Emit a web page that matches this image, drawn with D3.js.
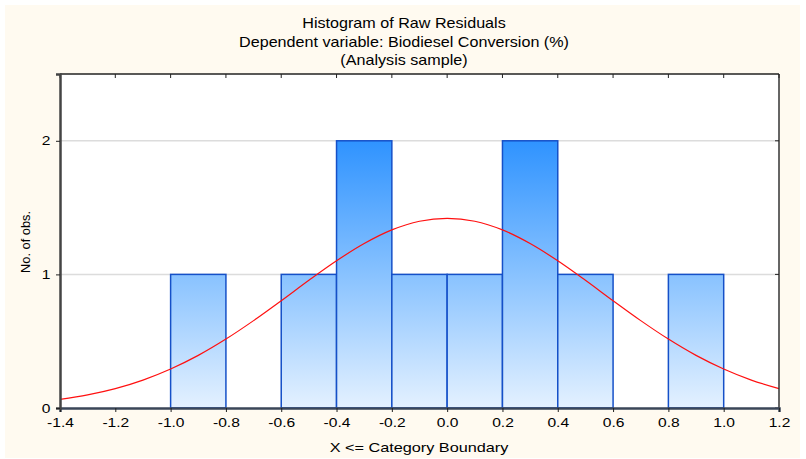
<!DOCTYPE html>
<html><head><meta charset="utf-8">
<script src="https://cdn.jsdelivr.net/npm/d3@7"></script>
<style>html,body{margin:0;padding:0;background:#fff}svg{display:block}</style>
</head><body>
<svg id="c" width="806" height="459"></svg>
<script>
// Data
const binStarts = [-1.0, -0.6, -0.4, -0.2, 0.0, 0.2, 0.4, 0.8];
const binCounts = [1, 1, 2, 1, 1, 2, 1, 1];
const binWidth = 0.2;
const xTicks = [-1.4,-1.2,-1.0,-0.8,-0.6,-0.4,-0.2,0.0,0.2,0.4,0.6,0.8,1.0,1.2];
const yTicks = [0, 1, 2];
// Expected normal curve at 0.1 steps
const curveX = [-1.4,-1.3,-1.2,-1.1,-1.0,-0.9,-0.8,-0.7,-0.6,-0.5,-0.4,-0.3,-0.2,-0.1,0.0,0.1,0.2,0.3,0.4,0.5,0.6,0.7,0.8,0.9,1.0,1.1,1.2];
const curveY = [0.064,0.098,0.145,0.209,0.292,0.394,0.516,0.654,0.803,0.956,1.102,1.231,1.333,1.398,1.42,1.398,1.333,1.231,1.102,0.956,0.803,0.654,0.516,0.394,0.292,0.209,0.145];
const titles = ["Histogram of Raw Residuals","Dependent variable: Biodiesel Conversion (%)","(Analysis sample)"];

const svg = d3.select("#c");
const L=60, R=779, T=74, B=408;
const SX = 1.2; // horizontal stretch of the reference's text
const x = d3.scaleLinear().domain([-1.4,1.2]).range([L,R]);
const y = d3.scaleLinear().domain([0,2.5]).range([B,T]);

svg.append("rect").attr("x",5).attr("y",5).attr("width",795).attr("height",453).attr("fill","#fffaf0");
svg.append("rect").attr("x",L).attr("y",T).attr("width",R-L).attr("height",B-T).attr("fill","#fff");

const font = "'Liberation Sans', Arial, sans-serif";
svg.selectAll("text.title").data(titles).enter().append("text")
  .attr("transform",(d,i)=>`translate(404,${28.3+i*18.4}) scale(1.17,1)`).attr("text-anchor","middle")
  .attr("font-family",font).attr("font-size",13.8).attr("fill","#000").text(d=>d);

// gridlines
svg.selectAll("line.grid").data(yTicks.filter(d=>d>0)).enter().append("line")
  .attr("x1",L).attr("x2",R).attr("y1",d=>y(d)).attr("y2",d=>y(d))
  .attr("stroke","#dcdcdc").attr("stroke-width",1.5);

// gradient
const defs = svg.append("defs");
const g = defs.append("linearGradient").attr("id","bg").attr("gradientUnits","userSpaceOnUse")
  .attr("x1",0).attr("x2",0).attr("y1",y(2)).attr("y2",y(0));
g.append("stop").attr("offset","0%").attr("stop-color","#2f93ff");
g.append("stop").attr("offset","50%").attr("stop-color","#88c2ff");
g.append("stop").attr("offset","100%").attr("stop-color","#e4f1ff");

svg.selectAll("rect.bar").data(binStarts).enter().append("rect")
  .attr("x",d=>x(d)).attr("width",d=>x(d+binWidth)-x(d))
  .attr("y",(d,i)=>y(binCounts[i])).attr("height",(d,i)=>y(0)-y(binCounts[i]))
  .attr("fill","url(#bg)").attr("stroke","#1550c8").attr("stroke-width",1.5);

// curve
const line = d3.line().x((d,i)=>x(curveX[i])).y(d=>y(d)).curve(d3.curveCatmullRom);
svg.append("path").attr("d",line(curveY)).attr("fill","none").attr("stroke","#ff1010").attr("stroke-width",1.2);

// frame
svg.append("line").attr("x1",R).attr("x2",R).attr("y1",T).attr("y2",B).attr("stroke","#333").attr("stroke-width",1.5);
svg.append("line").attr("x1",L).attr("x2",R).attr("y1",T).attr("y2",T).attr("stroke","#222").attr("stroke-width",1.5);
// top inner ticks
svg.selectAll("line.tt").data(xTicks).enter().append("line")
  .attr("x1",d=>x(d)).attr("x2",d=>x(d)).attr("y1",T).attr("y2",T+4).attr("stroke","#222");
// right inner ticks
svg.selectAll("line.rt").data(yTicks).enter().append("line")
  .attr("x1",R-4).attr("x2",R).attr("y1",d=>y(d)).attr("y2",d=>y(d)).attr("stroke","#222");

// axes
const xa = svg.append("g").attr("transform",`translate(0,${B})`)
  .call(d3.axisBottom(x).tickValues(xTicks).tickFormat(d3.format(".1f")).tickSizeOuter(0).tickSize(4).tickPadding(6));
xa.select(".domain").attr("stroke","#3a4658").attr("stroke-width",2.5);
xa.selectAll(".tick line").attr("stroke","#222");
xa.selectAll("text").attr("font-family",font).attr("font-size",13).attr("fill","#000")
  .attr("transform",`scale(${SX},1)`)
  .text(d=>d3.format(".1f")(d).replace("−","-"));

const ya = svg.append("g").attr("transform",`translate(${L},0)`)
  .call(d3.axisLeft(y).tickValues(yTicks).tickFormat(d3.format("d")).tickSizeOuter(0).tickSize(4).tickPadding(4));
ya.select(".domain").attr("stroke","#444").attr("stroke-width",2.5);
ya.selectAll(".tick line").attr("stroke","#222");
ya.selectAll("text").attr("font-family",font).attr("font-size",13).attr("fill","#000")
  .attr("transform",`scale(${SX},1)`);

svg.append("text").attr("transform",`translate(419,452) scale(1.25,1)`).attr("text-anchor","middle")
  .attr("font-family",font).attr("font-size",13).attr("fill","#000").text("X <= Category Boundary");
svg.append("text").attr("transform","translate(29.5,242) rotate(-90)").attr("text-anchor","middle")
  .attr("font-family",font).attr("font-size",12.8).attr("fill","#000").text("No. of obs.");
</script>
</body></html>
